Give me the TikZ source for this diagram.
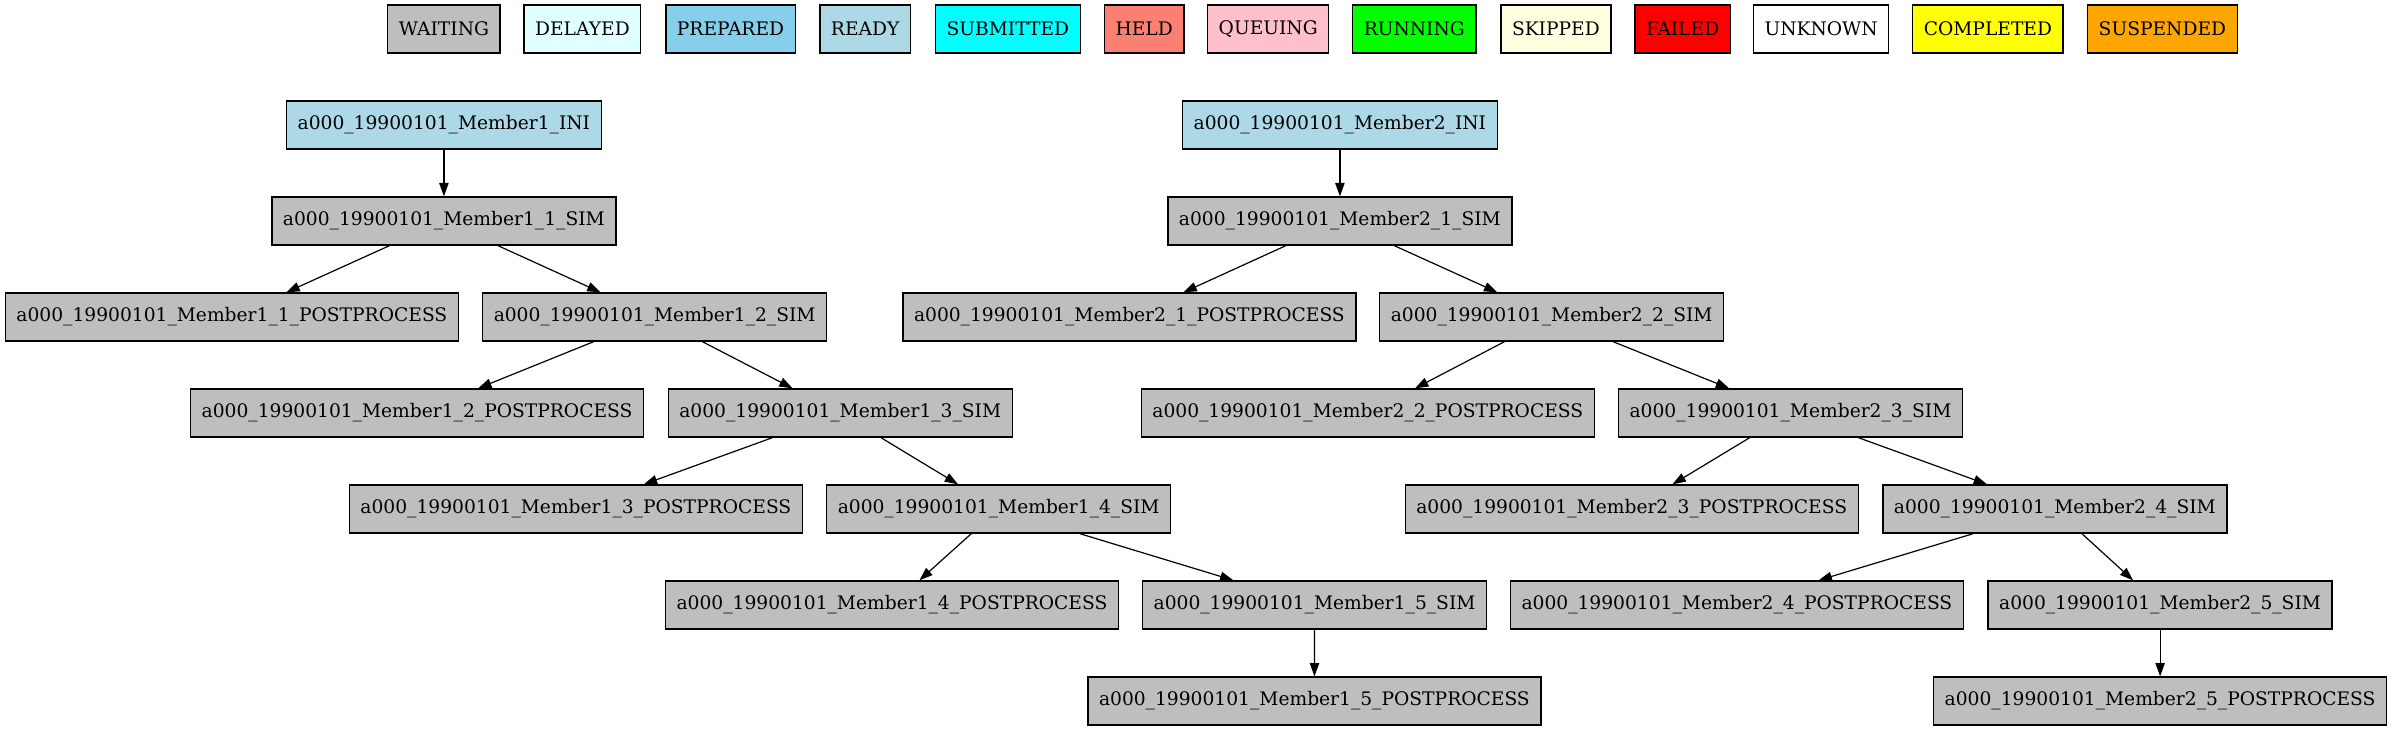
\documentclass[tikz,border=0pt]{standalone}
\usepackage{fontspec}
\setmainfont{DejaVu Serif}
\usepackage{tikz}
\usetikzlibrary{arrows.meta}
\definecolor{waiting}{HTML}{BEBEBE}
\definecolor{delayed}{HTML}{E0FFFF}
\definecolor{prepared}{HTML}{87CEEB}
\definecolor{ready}{HTML}{ADD8E6}
\definecolor{submitted}{HTML}{00FFFF}
\definecolor{held}{HTML}{FA8072}
\definecolor{queuing}{HTML}{FFC0CB}
\definecolor{runningc}{HTML}{00FF00}
\definecolor{skipped}{HTML}{FFFFE0}
\definecolor{failed}{HTML}{FF0000}
\definecolor{unknown}{HTML}{FFFFFF}
\definecolor{completed}{HTML}{FFFF00}
\definecolor{suspended}{HTML}{FFA500}
\tikzset{
  jobbox/.style={draw=black,line width=1pt,rectangle,minimum height=36pt,
    inner xsep=8.3pt,inner ysep=0pt,font=\fontsize{14pt}{17pt}\selectfont},
  link/.style={line width=0.9pt,-{Triangle[length=10pt,width=7pt]}}
}

\begin{document}
\begin{tikzpicture}[x=0.75pt,y=-0.75pt]
  \useasboundingbox (0,0) rectangle (2392,731);
  \foreach \lab/\x/\fc [count=\i] in {
      WAITING/443.9/waiting, DELAYED/582.4/delayed, PREPARED/730.5/prepared,
      READY/865.2/ready, SUBMITTED/1007.9/submitted, HELD/1144.2/held,
      QUEUING/1268.2/queuing, RUNNING/1414.3/runningc, SKIPPED/1555.9/skipped,
      FAILED/1682.6/failed, UNKNOWN/1821.1/unknown, COMPLETED/1987.9/completed,
      SUSPENDED/2162.4/suspended} {
    \node[jobbox,fill=\fc] (key\i) at (\x,29) {\lab};
  }
  \foreach \nm/\lab/\fc/\x/\y in {
      m1ini/Member1\_INI/ready/443.9/125,
      m1s1/Member1\_1\_SIM/waiting/443.9/221,
      m1p1/Member1\_1\_POSTPROCESS/waiting/231.9/317,
      m1s2/Member1\_2\_SIM/waiting/654.7/317,
      m1p2/Member1\_2\_POSTPROCESS/waiting/417.1/413,
      m1s3/Member1\_3\_SIM/waiting/840.3/413,
      m1p3/Member1\_3\_POSTPROCESS/waiting/575.9/509,
      m1s4/Member1\_4\_SIM/waiting/998.7/509,
      m1p4/Member1\_4\_POSTPROCESS/waiting/892.0/605,
      m1s5/Member1\_5\_SIM/waiting/1314.6/605,
      m1p5/Member1\_5\_POSTPROCESS/waiting/1314.4/701,
      m2ini/Member2\_INI/ready/1339.9/125,
      m2s1/Member2\_1\_SIM/waiting/1339.9/221,
      m2p1/Member2\_1\_POSTPROCESS/waiting/1129.4/317,
      m2s2/Member2\_2\_SIM/waiting/1551.7/317,
      m2p2/Member2\_2\_POSTPROCESS/waiting/1367.8/413,
      m2s3/Member2\_3\_SIM/waiting/1790.5/413,
      m2p3/Member2\_3\_POSTPROCESS/waiting/1631.7/509,
      m2s4/Member2\_4\_SIM/waiting/2054.9/509,
      m2p4/Member2\_4\_POSTPROCESS/waiting/1736.9/605,
      m2s5/Member2\_5\_SIM/waiting/2160.1/605,
      m2p5/Member2\_5\_POSTPROCESS/waiting/2160.1/701} {
    \node[jobbox,fill=\fc] (\nm) at (\x,\y) {a000\_19900101\_\lab};
  }
  \foreach \m in {1,2} {
    \draw[link] (m\m ini) -- (m\m s1);
    \foreach \k [evaluate=\k as \kk using int(\k+1)] in {1,...,4} {
      \draw[link] (m\m s\k) -- (m\m p\k);
      \draw[link] (m\m s\k) -- (m\m s\kk);
    }
    \draw[link] (m\m s5) -- (m\m p5);
  }
\end{tikzpicture}
\end{document}
